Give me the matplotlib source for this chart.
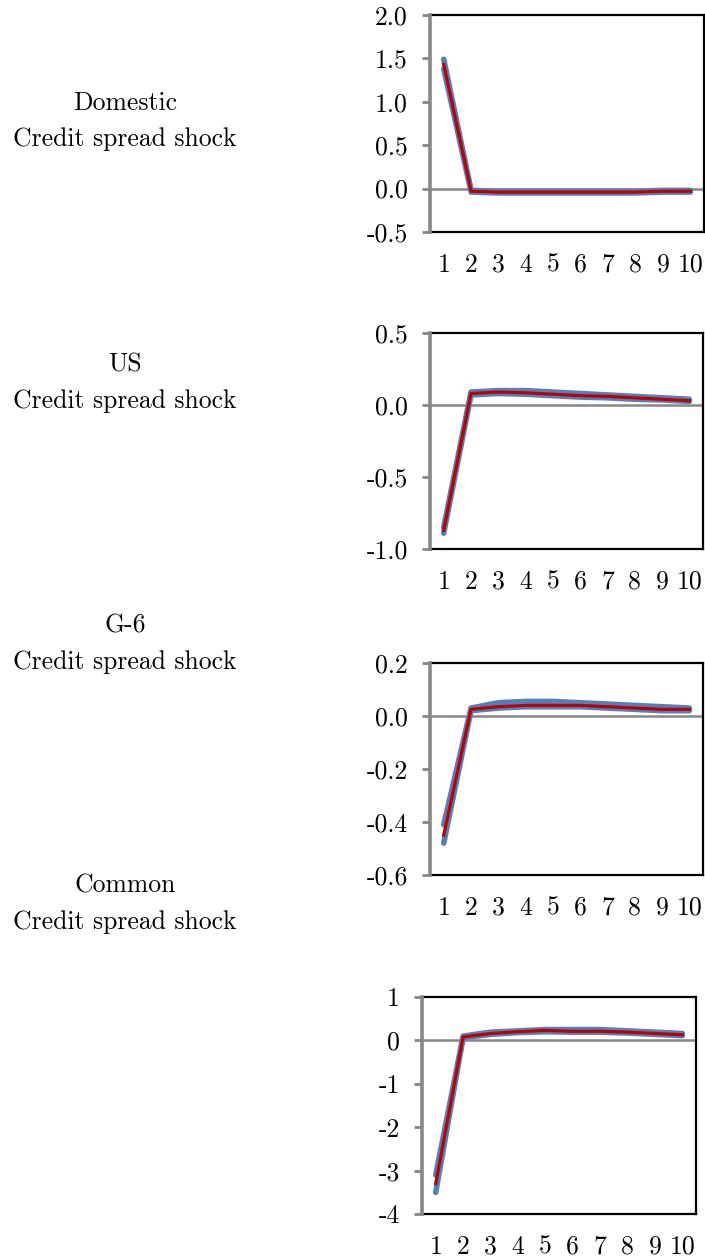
import matplotlib.pyplot as plt

plt.rcParams['font.family'] = ['cmr10', 'DejaVu Serif']
plt.rcParams['axes.formatter.use_mathtext'] = True

horizons = [1, 2, 3, 4, 5, 6, 7, 8, 9, 10]
xlabels = ["1", "2", "3", "4", "5", "6", "7", "8", "9", "10"]

titles = ["Domestic", "US", "G-6", "Common"]

dom_upper = [1.49, -0.02, -0.03, -0.03, -0.03, -0.03, -0.03, -0.03, -0.02, -0.02]
dom_med = [1.43, -0.03, -0.04, -0.04, -0.04, -0.04, -0.04, -0.04, -0.03, -0.03]
dom_lower = [1.38, -0.04, -0.05, -0.05, -0.05, -0.05, -0.05, -0.05, -0.04, -0.04]

us_upper = [-0.85, 0.09, 0.10, 0.10, 0.09, 0.08, 0.07, 0.06, 0.05, 0.04]
us_med = [-0.87, 0.08, 0.09, 0.085, 0.075, 0.065, 0.06, 0.05, 0.04, 0.03]
us_lower = [-0.89, 0.07, 0.08, 0.075, 0.065, 0.055, 0.05, 0.04, 0.035, 0.025]

g6_upper = [-0.41, 0.03, 0.05, 0.055, 0.055, 0.05, 0.045, 0.04, 0.035, 0.03]
g6_med = [-0.45, 0.025, 0.035, 0.04, 0.04, 0.04, 0.035, 0.03, 0.025, 0.025]
g6_lower = [-0.48, 0.02, 0.03, 0.035, 0.035, 0.035, 0.03, 0.025, 0.02, 0.02]

com_upper = [-3.1, 0.10, 0.19, 0.22, 0.25, 0.25, 0.25, 0.22, 0.19, 0.16]
com_med = [-3.3, 0.08, 0.16, 0.20, 0.23, 0.21, 0.21, 0.19, 0.16, 0.13]
com_lower = [-3.5, 0.06, 0.14, 0.18, 0.20, 0.19, 0.19, 0.17, 0.14, 0.11]

yticks_list = [
    [-0.5, 0.0, 0.5, 1.0, 1.5, 2.0],
    [-1.0, -0.5, 0.0, 0.5],
    [-0.6, -0.4, -0.2, 0.0, 0.2],
    [-4, -3, -2, -1, 0, 1],
]
ylabels_list = [
    ["-0.5", "0.0", "0.5", "1.0", "1.5", "2.0"],
    ["-1.0", "-0.5", "0.0", "0.5"],
    ["-0.6", "-0.4", "-0.2", "0.0", "0.2"],
    ["-4", "-3", "-2", "-1", "0", "1"],
]
series = [
    (dom_upper, dom_med, dom_lower),
    (us_upper, us_med, us_lower),
    (g6_upper, g6_med, g6_lower),
    (com_upper, com_med, com_lower),
]

# axes rectangles (figure fractions)
rects = [
    [0.610, 0.8157, 0.3887, 0.1724],
    [0.610, 0.5639, 0.3872, 0.1716],
    [0.610, 0.3050, 0.3872, 0.1684],
    [0.5986, 0.0357, 0.3887, 0.1724],
]
# label positions (y pixel of first line)
label_y = [103, 365, 626, 886]

blue = "#4F81BD"
red = "#C00000"
grey = "#878787"
fs = 18.5

fig = plt.figure(figsize=(7.05, 12.59), dpi=100)

for i in range(4):
    ax = fig.add_axes(rects[i])
    up, med, lo = series[i]
    ax.plot(horizons, up, color=blue, lw=4, solid_capstyle="round", zorder=3)
    ax.plot(horizons, lo, color=blue, lw=4, solid_capstyle="round", zorder=3)
    ax.plot(horizons, med, color=red, lw=2.3, zorder=4)
    ax.axhline(0, color=grey, lw=1.8, zorder=2)
    ax.set_xlim(0.5, 10.5)
    ax.set_ylim(yticks_list[i][0], yticks_list[i][-1])
    ax.set_xticks(horizons)
    ax.set_xticklabels(xlabels)
    ax.set_yticks(yticks_list[i])
    ax.set_yticklabels(ylabels_list[i])
    ax.tick_params(axis="x", length=0, pad=15, labelsize=fs)
    ax.tick_params(axis="y", length=6, width=2, color=grey, direction="out",
                   pad=10, labelsize=fs)
    for s in ["top", "right", "bottom"]:
        ax.spines[s].set_color("black")
        ax.spines[s].set_linewidth(1.6)
    ax.spines["left"].set_color(grey)
    ax.spines["left"].set_linewidth(2.6)
    ax.spines["left"].set_zorder(5)

    fig.text(125 / 705, 1 - label_y[i] / 1259, titles[i], ha="center",
             va="center", fontsize=fs)
    fig.text(125 / 705, 1 - (label_y[i] + 36) / 1259, "Credit spread shock",
             ha="center", va="center", fontsize=fs)

plt.savefig("out.png", dpi=100)
plt.close("all")
